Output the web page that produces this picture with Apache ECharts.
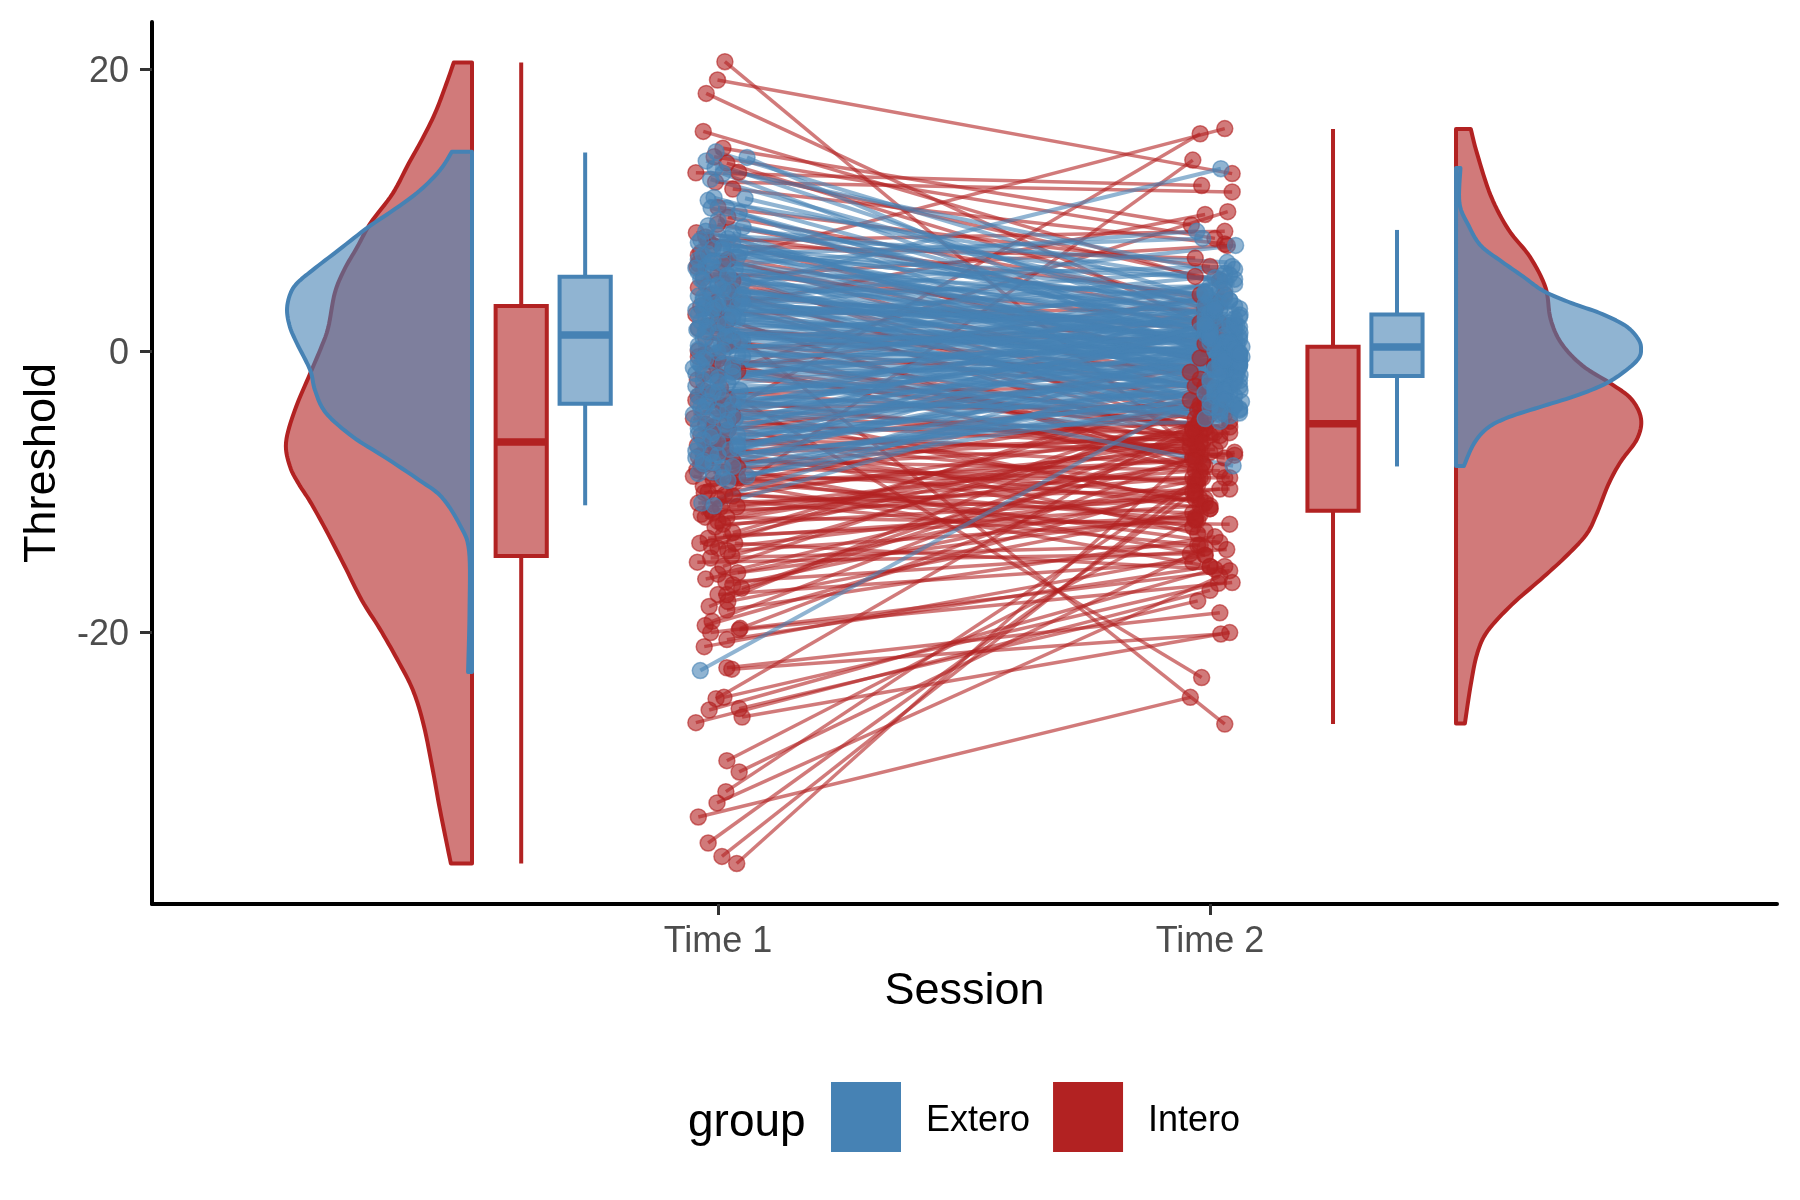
<!DOCTYPE html>
<html><head><meta charset="utf-8">
<style>html,body{margin:0;padding:0;background:#fff}#c{width:1800px;height:1200px}</style>
<script src="https://cdn.jsdelivr.net/npm/echarts@6/dist/echarts.min.js"></script>
</head><body><div id="c"></div>
<script>
const sessionLabels = ['Time 1','Time 2'];
const sessionTicks = [1,2];
const thresholdTicks = [-20,0,20];
const groupNames = ['Extero','Intero'];

const interoT1 = [
20.55,19.25,18.3,15.6,14.4,13.8,13.35,12.7,12.66,12.0,
11.5,9.0,8.4,8.1,7.5,7.0,6.5,6.2,6.0,5.6,
5.2,4.8,4.5,4.0,3.6,3.2,3.0,2.6,2.2,1.8,
1.3,0.9,0.5,0,-0.4,-0.8,-1.2,-1.6,-2.05,-2.6,
-3,-3.5,-3.9,-4.3,-4.8,-5.2,-5.6,-6,-6.3,-6.7,
-7,-7.2,-7.5,-7.8,-8,-8.45,-8.6,-8.9,-9.1,-9.3,
-9.6,-10.06,-10.2,-10.5,-10.8,-11.05,-11.3,-11.6,-11.8,-11.8,
-12.1,-12.5,-12.9,-13.3,-13.65,-13.65,-13.9,-14.2,-14.56,-15,
-15.3,-15.75,-15.85,-16.2,-16.4,-16.85,-17.3,-17.3,-18.15,-18.4,
-19.2,-19.5,-19.8,-19.7,-20.5,-21,-22.5,-22.6,-24.6,-24.7,
-25.4,-25.5,-26,-26.4,-29.1,-29.9,-31.3,-32.1,-33.1,-34.95,-35.9,-36.4,
-4.1,-5.0,-5.4,-6.5,-7.3,-8.3,-9.4,-10.3,-11.5,-12.3,
-2.8,-3.4,-1.4,-0.6,0.7,2.4,4.2,-13.1,-14.7,-16.6,
-0.2,-1.8,-3.2,-4.6,-5.8,-6.9,-8.1,-9.0,-10.0,-11.1,
10.2,9.5,7.8,6.8,5.0,3.4,1.6,-14.0,-17.8,-20.0];
const interoX1 = [
1.014,0.999,0.976,0.970,1.010,0.992,1.018,1.042,0.955,0.995,
1.03,0.999,0.956,0.975,0.99,0.965,1.02,0.96,0.957,1.0,
0.97,1.01,0.96,0.985,1.03,0.965,0.995,0.955,1.02,0.98,
1.0,0.975,1.015,0.96,0.96,0.99,1.03,0.97,0.958,1.005,
0.985,0.955,1.01,0.97,0.95,0.975,1.02,0.965,0.99,0.958,
0.98,1.0,0.96,1.03,0.975,0.957,1.01,0.95,0.99,1.025,
0.97,0.972,1.014,1.0,0.96,1.039,0.985,0.966,0.974,1.018,
1.0,0.994,1.03,0.98,0.963,1.034,0.987,1.02,1.028,0.958,
1.01,1.04,1.0,0.975,1.016,1.048,1.0,1.018,0.982,1.018,
0.988,0.974,1.043,1.045,1.018,0.972,1.018,1.028,1.012,0.996,
1.043,0.982,1.049,0.955,1.018,1.043,1.016,0.998,0.96,0.98,1.008,1.038,
1.0,1.02,0.99,1.01,0.97,1.04,1.0,1.03,0.99,1.01,
0.97,1.02,1.04,1.0,1.03,1.0,1.02,1.01,0.985,1.03,
0.975,1.0,0.96,1.03,0.985,1.015,0.965,1.04,0.98,1.005,
1.0,1.02,0.98,0.96,1.03,0.99,0.96,1.0,1.02,0.985];
const interoT2 = [
-7.5,12.6,1.7,5.3,8.95,8.0,3.0,5.0,11.75,11.3,
7.6,2.5,4.0,-1.0,6.6,0.5,-3.0,-5.5,15.8,2.0,
7.5,-2.0,-4.5,1.5,-6.5,-26.5,9.7,3.0,-8.5,-1.5,
0.8,-3.5,-7.5,2.0,-9.0,-1.0,-5.5,4.0,9.9,-23.2,
-2.5,-11.0,-4.0,-6.5,-13.0,15.43,-1.0,-9.5,-7.0,-3.5,
-12.5,-5.0,-10.2,-8.5,-14.5,-6.5,-10.5,-15.3,-9.0,-12.0,
-4.0,-7.0,-11.5,-13.8,-9.8,-8.5,-10.5,13.56,-12.3,-6.0,
-6.5,-8.0,-3.5,-11.0,-5.5,-15.5,-2.5,-12.0,-4.5,-14.4,
-4.2,-11.6,-7.7,-9.2,-14.1,-5.0,-15.0,-6.0,-3.8,-13.2,
-6.0,-9.5,-16.45,-7.5,-15.3,-14.5,-18.6,-20.1,-16.5,-4.8,
-17.75,-15.3,-20.0,-17.0,-12.0,-14.0,-9.0,-16.0,-24.6,-10.0,-9.0,-7.0,
-6.0,-6.8,-5.8,-8.0,-6.2,-9.2,-7.8,-5.5,-9.0,-10.5,
-5.2,-7.2,-6.5,-4.8,-5.6,-8.2,-5.0,-11.8,-13.8,-10.0,
-6.4,-5.4,-7.6,-10.8,-7.4,-11.2,-5.8,-13.6,-12.8,-7.2,
6.0,3.5,8.5,-0.5,-4.0,-5.8,-2.5,-9.8,-11.2,-15.6];
const interoX2 = [
1.98,2.045,2.00,1.97,1.962,2.01,1.99,2.02,1.983,2.045,
2.03,2.0,1.98,2.01,1.97,1.99,2.0,1.965,2.03,2.02,
2.035,1.98,2.0,2.02,1.97,2.03,1.99,2.01,1.98,1.96,
2.0,2.02,1.97,1.98,2.04,2.01,1.99,2.03,2.036,1.983,
1.97,2.0,2.02,1.98,1.975,1.98,2.03,1.97,2.01,1.99,
1.965,1.99,1.97,2.02,1.99,1.98,1.97,2.0,2.03,1.975,
1.98,1.975,1.965,1.98,2.04,1.97,1.99,1.965,2.04,2.0,
1.97,1.985,1.96,1.98,1.97,2.01,1.99,1.97,2.03,1.96,
1.975,1.98,1.965,1.97,2.034,2.04,1.965,2.02,1.98,2.01,
1.97,1.975,2.045,1.965,2.0,1.99,2.02,2.022,2.017,1.98,
1.975,2.03,2.04,2.0,1.97,1.99,1.98,2.02,1.96,1.97,1.985,1.975,
1.98,1.96,1.97,1.985,1.96,1.975,1.97,1.99,1.965,1.98,
1.975,2.0,1.985,1.97,1.965,1.99,1.98,1.97,1.975,1.965,
2.02,2.04,2.03,1.99,2.05,2.0,2.04,2.02,1.99,2.05,
2.0,2.02,2.03,1.98,1.99,2.01,2.0,2.02,2.0,2.04];

const exteroT1 = [
14.15,13.75,13.5,13.0,12.6,12.2,10.9,10.85,10.7,10.15,
10.15,9.8,8.8,8.5,8.2,7.9,7.6,7.3,7.0,6.8,
6.5,6.2,6.0,5.8,5.5,5.3,5.1,4.9,4.7,4.5,
4.3,4.1,3.9,3.7,3.5,3.3,3.1,2.9,2.7,2.5,
2.3,2.1,1.9,1.7,1.5,1.3,1.1,0.9,0.7,0.5,
0.3,0.1,-0.1,-0.3,-0.6,-0.9,-1.0,-1.2,-1.5,-1.7,
-1.9,-2.1,-2.3,-2.5,-2.8,-3.0,-3.2,-3.4,-3.6,-3.8,
-4.0,-4.3,-4.5,-4.8,-5.0,-5.2,-5.5,-5.8,-6.0,-6.3,
-6.5,-6.8,-7.0,-7.3,-7.6,-8.0,-8.3,-8.6,-8.9,-9.2,
-10.8,-11,-22.7,3.4,2.6,3.0,4.0,6.4,7.2,1.6,
9.3,8.0,6.9,5.6,4.4,3.2,2.2,1.2,0.2,-0.8,
-1.8,-2.9,-3.9,-4.9,-5.9,-6.9,-7.9,-0.4,1.0,3.6,
8.9,8.4,7.7,7.4,6.7,6.3,5.9,5.4,5.0,4.6,
4.2,3.8,3.4,3.0,2.6,2.4,2.0,1.4,0.8,0.4,
0,-0.5,-1.1,-1.6,-2.2,-2.7,-3.3,-3.7,-4.2,-4.6,
-5.1,-5.6,-6.1,-6.6,-7.1,-7.4,-7.8,-8.2,-8.7,-9.0];
const exteroX1 = [
0.996,1.059,0.976,0.994,1.01,0.985,0.992,1.055,0.98,0.986,
1.018,1.043,1.051,0.975,1.0,0.965,1.03,0.99,1.045,0.97,
0.96,1.01,0.975,1.035,0.99,1.02,0.965,1.05,1.0,0.98,
1.03,0.99,0.96,1.045,1.01,0.975,1.0,0.955,1.025,0.985,
1.04,0.965,1.015,0.98,0.957,1.0,1.03,0.97,1.05,0.99,
1.02,0.96,1.0,1.04,0.975,1.01,0.965,0.95,1.03,0.985,
1.0,0.97,1.02,0.955,1.045,0.99,0.96,1.01,0.98,1.03,
0.965,1.0,0.95,1.035,0.98,1.015,0.96,0.99,1.04,0.97,
1.0,0.96,1.025,0.985,0.955,0.97,1.01,0.99,1.059,1.02,
0.967,0.992,0.964,1.0,1.03,0.97,1.05,0.99,1.01,0.96,
1.0,1.02,0.98,0.96,1.01,1.04,0.975,1.02,0.99,0.96,
1.03,1.0,0.975,1.02,0.96,1.04,0.99,1.05,1.015,0.97,
0.98,1.03,0.96,1.01,1.04,0.985,0.955,1.02,0.97,1.0,
1.02,0.97,1.05,0.99,0.96,1.03,1.0,0.975,1.045,0.96,
1.01,0.97,1.03,0.955,1.0,0.98,1.04,0.96,1.02,0.99,
0.96,1.02,0.985,1.04,0.955,1.0,0.97,1.03,0.96,1.01];
const exteroT2 = [
3.5,-1.0,1.8,5.5,-0.5,2.5,0.8,3.0,4.75,1.5,
-2.0,0.5,2.2,-1.5,6.3,1.2,-0.3,3.2,0.0,8.0,
2.0,-1.0,8.5,0.6,3.0,-0.8,1.5,2.56,-2.0,0.3,
1.0,12.95,-0.5,1.8,-1.7,7.5,0.2,2.2,-1.2,3.6,
-0.4,1.3,0.6,-2.8,2.8,0.0,-0.9,4.2,1.1,-1.5,
0.9,-1.8,1.7,-0.2,2.4,-3.6,-8.15,0.4,-1.1,1.0,
-0.6,3.0,0.5,-2.4,1.4,-0.1,-4.5,2.0,-1.3,0.7,
-2.2,1.2,-0.7,-3.0,0.3,2.6,-1.6,-5.0,0.8,-2.6,
-0.3,-3.4,1.5,-1.0,-4.0,0.1,-2.0,-3.2,0.6,-1.4,
0.4,-0.5,-3.0,1.6,-0.7,1.9,0.9,-1.9,3.4,-0.2,
1.1,-1.1,2.7,0.2,-0.4,1.7,-1.0,0.5,2.3,-2.3,
1.3,-0.9,0.6,-1.7,1.8,-0.6,-2.9,0.1,-0.2,1.0,
5.0,-3.2,4.0,-2.5,5.2,-4.2,3.8,-3.6,6.0,-4.8,
4.6,-3.0,5.8,-4.0,4.4,-3.8,5.4,-2.7,3.3,-4.4,
4.9,-2.1,3.7,-4.6,5.1,-3.3,2.9,-4.1,4.1,-2.8,
3.1,-3.9,4.3,-2.2,2.4,-4.3,3.6,-2.5,1.9,-3.5];
const exteroX2 = [
2.01,2.04,1.99,2.03,2.02,2.0,2.05,2.02,2.05,1.98,
2.0,2.03,2.01,2.05,2.035,1.99,2.06,2.05,2.03,1.985,
2.04,2.03,1.973,2.0,2.06,2.02,1.99,2.061,2.05,2.065,
2.0,2.022,2.04,2.05,2.061,2.052,2.03,1.99,2.01,2.04,
2.065,2.061,2.03,2.061,2.02,2.01,2.05,1.99,2.05,2.03,
2.0,2.04,2.06,2.03,2.01,2.064,2.047,2.05,2.02,2.06,
2.04,1.99,2.055,2.03,2.0,2.06,2.02,2.05,2.01,2.03,
2.05,2.0,2.06,2.04,2.03,1.99,2.055,2.02,2.06,2.01,
2.05,2.03,2.0,2.06,2.02,2.04,2.05,2.01,2.03,2.055,
2.02,2.04,1.99,2.05,2.06,2.03,2.0,2.05,2.02,2.06,
2.03,2.06,2.0,2.05,2.02,2.04,2.06,2.01,2.05,2.03,
2.0,2.06,2.04,2.02,2.055,2.03,2.01,2.05,2.06,2.0,
2.02,2.05,1.99,2.04,2.01,2.06,2.03,2.0,2.045,1.99,
2.0,2.03,2.05,2.0,2.02,2.05,2.04,2.01,1.99,2.06,
2.03,2.06,2.0,2.04,2.05,2.02,2.01,2.06,1.99,2.03,
2.01,2.05,2.03,2.0,2.06,2.02,2.04,2.06,1.99,2.03];

// box rows: position, low whisker, Q1, median, Q3, high whisker
const interoBoxes = [[0.6,-36.4,-14.56,-6.46,3.2,20.5],[2.25,-26.5,-11.34,-5.16,0.3,15.77]];
const exteroBoxes = [[0.73,-10.96,-3.75,1.13,5.28,14.1],[2.38,-8.2,-1.78,0.28,2.6,8.6]];

// half violins: threshold values and density widths
const vioInteroLeftY = [20.5,19,16.9,15,13.3,11.2,9.1,7.4,5.75,4.1,1.7,0.3,-1.6,-4.2,-6.5,-8.2,-9.45,-10.7,-12.7,-15.2,-17.7,-19.7,-21.9,-24.1,-26.6,-29.9,-32.6,-36.4];
const vioInteroLeftW = [.037,.052,.075,.102,.129,.161,.206,.233,.26,.279,.292,.306,.329,.36,.378,.37,.352,.329,.297,.26,.224,.188,.152,.12,.098,.079,.065,.043];
const vioExteroLeftY = [14.15,12.85,11.4,10,8.8,7.2,5.75,4.8,4,2.9,1.7,0.55,-1.35,-2.8,-4.4,-6.1,-7.5,-9.2,-10.4,-12.4,-14.2,-18.4,-22.8];
const vioExteroLeftW = [.041,.065,.106,.16,.211,.27,.324,.356,.37,.376,.37,.356,.329,.319,.297,.242,.179,.106,.061,.024,.006,.005,.008];
const vioInteroRightY = [15.77,14,11,8.6,6.7,4.5,2.3,0.55,-1.04,-2.3,-3.4,-4.8,-6.25,-7.85,-9.45,-11.65,-13.07,-14.67,-16.26,-18,-19.9,-21.5,-23.7,-26.46];
const vioInteroRightW = [.03,.043,.071,.107,.15,.182,.192,.214,.257,.314,.356,.376,.368,.335,.31,.285,.264,.221,.171,.114,.064,.043,.03,.018];
const vioExteroRightY = [13,10.5,8.95,7.5,6.35,5.3,4.26,3.4,2.7,1.85,1.02,0.23,-0.71,-2.13,-3.1,-3.9,-4.7,-5.47,-6.6,-8.17];
const vioExteroRightW = [.009,.007,.025,.05,.093,.136,.178,.235,.292,.342,.367,.376,.367,.314,.25,.178,.107,.064,.036,.016];

const RED='#B22222', BLUE='#4682B4', REDA='rgba(178,34,34,0.6)', BLUEA='rgba(70,130,180,0.6)';
const FONT='"Liberation Sans", Arial, sans-serif';

// Round off the drawn outline between the read points (drawing only; no data is added).
function roundOff(p){
  const out=[];
  for(let i=0;i<p.length-1;i++){
    const a=p[Math.max(i-1,0)], b=p[i], c=p[i+1], d=p[Math.min(i+2,p.length-1)];
    for(let k=0;k<8;k++){
      const t=k/8, t2=t*t, t3=t2*t;
      out.push([0,1].map(j=>0.5*(2*b[j]+(c[j]-a[j])*t+(2*a[j]-5*b[j]+4*c[j]-d[j])*t2+(3*b[j]-a[j]-3*c[j]+d[j])*t3)));
    }
  }
  out.push(p[p.length-1]);
  return out;
}
function violin(name, pos, side, ys, ws, col, colA){
  const pts = ys.map((y,i)=>[pos+side*ws[i], y]);
  return {name, type:'custom', coordinateSystem:'cartesian2d', clip:false, silent:true,
    data:pts, encode:{x:0,y:1},
    renderItem(params, api){
      if(params.dataIndex!==0) return null;
      const curve = roundOff(pts.map(d=>api.coord(d)));
      const p = [api.coord([pos,ys[0]])].concat(curve,[api.coord([pos,ys[ys.length-1]])]);
      return {type:'polygon', shape:{points:p}, style:{fill:colA, stroke:col, lineWidth:4, lineJoin:'round'}};
    }};
}
function boxes(name, rows, col, colA){
  return {name, type:'custom', coordinateSystem:'cartesian2d', silent:true, data:rows,
    encode:{x:0,y:[1,2,3,4,5]},
    renderItem(params, api){
      const x=api.value(0), hw=0.052;
      const c=(a,b)=>api.coord([a,b]);
      const lo=c(x,api.value(1)), q1=c(x,api.value(2)), med=c(x,api.value(3)), q3=c(x,api.value(4)), hi=c(x,api.value(5));
      const l=c(x-hw,0)[0], r=c(x+hw,0)[0];
      const ln={stroke:col, lineWidth:4};
      return {type:'group', children:[
        {type:'line', shape:{x1:lo[0],y1:lo[1],x2:q1[0],y2:q1[1]}, style:ln},
        {type:'line', shape:{x1:q3[0],y1:q3[1],x2:hi[0],y2:hi[1]}, style:ln},
        {type:'rect', shape:{x:l,y:q3[1],width:r-l,height:q1[1]-q3[1]}, style:{fill:colA,stroke:col,lineWidth:4}},
        {type:'line', shape:{x1:l,y1:med[1],x2:r,y2:med[1]}, style:{stroke:col,lineWidth:7.5}}
      ]};
    }};
}
function links(name, x1,t1,x2,t2, colA, width){
  return {name, type:'custom', coordinateSystem:'cartesian2d', silent:true,
    data:t1.map((v,i)=>[x1[i],v,x2[i],t2[i]]), encode:{x:[0,2],y:[1,3]},
    renderItem(params, api){
      const a=api.coord([api.value(0),api.value(1)]), b=api.coord([api.value(2),api.value(3)]);
      return {type:'line', shape:{x1:a[0],y1:a[1],x2:b[0],y2:b[1]}, style:{stroke:colA,lineWidth:width}};
    }};
}
function dots(name, xs, ts, colA){
  return {name, type:'scatter', silent:true, symbol:'circle', symbolSize:16,
    data:ts.map((v,i)=>[xs[i],v]),
    itemStyle:{color:colA, borderColor:colA, borderWidth:1.5, opacity:1}};
}

const chart = echarts.init(document.getElementById('c'), null, {renderer:'canvas', width:1800, height:1200});
chart.setOption({
  animation:false, backgroundColor:'#fff',
  textStyle:{fontFamily:FONT},
  grid:{left:152, right:23, top:22, bottom:296, containLabel:false, outerBoundsMode:'none'},
  title:{text:'group', left:688, top:1100, padding:0, textStyle:{fontFamily:FONT,fontSize:46,fontWeight:'normal',color:'#000'}},
  legend:{left:831, top:1082, padding:0, orient:'horizontal', itemWidth:70, itemHeight:70, itemGap:23,
    selectedMode:false,
    formatter:n=>'{t|'+n+'}',
    textStyle:{fontFamily:FONT,fontSize:36,color:'#000',
      rich:{t:{fontFamily:FONT,fontSize:36,color:'#000',padding:[9,0,0,20]}}},
    data:[{name:groupNames[0],icon:'rect',itemStyle:{color:BLUE,opacity:1,borderWidth:0}},
          {name:groupNames[1],icon:'rect',itemStyle:{color:RED,opacity:1,borderWidth:0}}]},
  xAxis:{type:'value', min:-0.1504, max:3.1524, splitLine:{show:false},
    name:'Session', nameLocation:'middle', nameGap:65,
    nameTextStyle:{fontFamily:FONT,fontSize:45,color:'#000'},
    axisLine:{show:true,onZero:false,lineStyle:{color:'#000',width:4}},
    axisTick:{show:true,length:11,customValues:sessionTicks,lineStyle:{color:'#333',width:3}},
    axisLabel:{show:true,margin:20,fontFamily:FONT,fontSize:36,color:'#4D4D4D',customValues:sessionTicks,
      formatter:v=>sessionLabels[sessionTicks.indexOf(v)]||''}},
  yAxis:{type:'value', min:-39.28, max:23.37, splitLine:{show:false},
    name:'Threshold', nameLocation:'middle', nameGap:87, nameRotate:90,
    nameTextStyle:{fontFamily:FONT,fontSize:45,color:'#000'},
    axisLine:{show:true,onZero:false,lineStyle:{color:'#000',width:4}},
    axisTick:{show:true,length:12,customValues:thresholdTicks,lineStyle:{color:'#333',width:3}},
    axisLabel:{show:true,margin:23,fontFamily:FONT,fontSize:36,color:'#4D4D4D',customValues:thresholdTicks,
      formatter:v=>'{t|'+v+'}',
      rich:{t:{fontFamily:FONT,fontSize:36,color:'#4D4D4D',padding:[6,0,0,0]}}}},
  series:[
    violin('Intero',0.5,-1,vioInteroLeftY,vioInteroLeftW,RED,REDA),
    violin('Extero',0.5,-1,vioExteroLeftY,vioExteroLeftW,BLUE,BLUEA),
    violin('Intero',2.5,1,vioInteroRightY,vioInteroRightW,RED,REDA),
    violin('Extero',2.5,1,vioExteroRightY,vioExteroRightW,BLUE,BLUEA),
    boxes('Intero',interoBoxes,RED,REDA),
    boxes('Extero',exteroBoxes,BLUE,BLUEA),
    dots('Intero',interoX1,interoT1,REDA),
    dots('Intero',interoX2,interoT2,REDA),
    links('Intero',interoX1,interoT1,interoX2,interoT2,REDA,3.5),
    dots('Extero',exteroX1,exteroT1,BLUEA),
    dots('Extero',exteroX2,exteroT2,BLUEA),
    links('Extero',exteroX1,exteroT1,exteroX2,exteroT2,BLUEA,4)
  ]
});
</script></body></html>
